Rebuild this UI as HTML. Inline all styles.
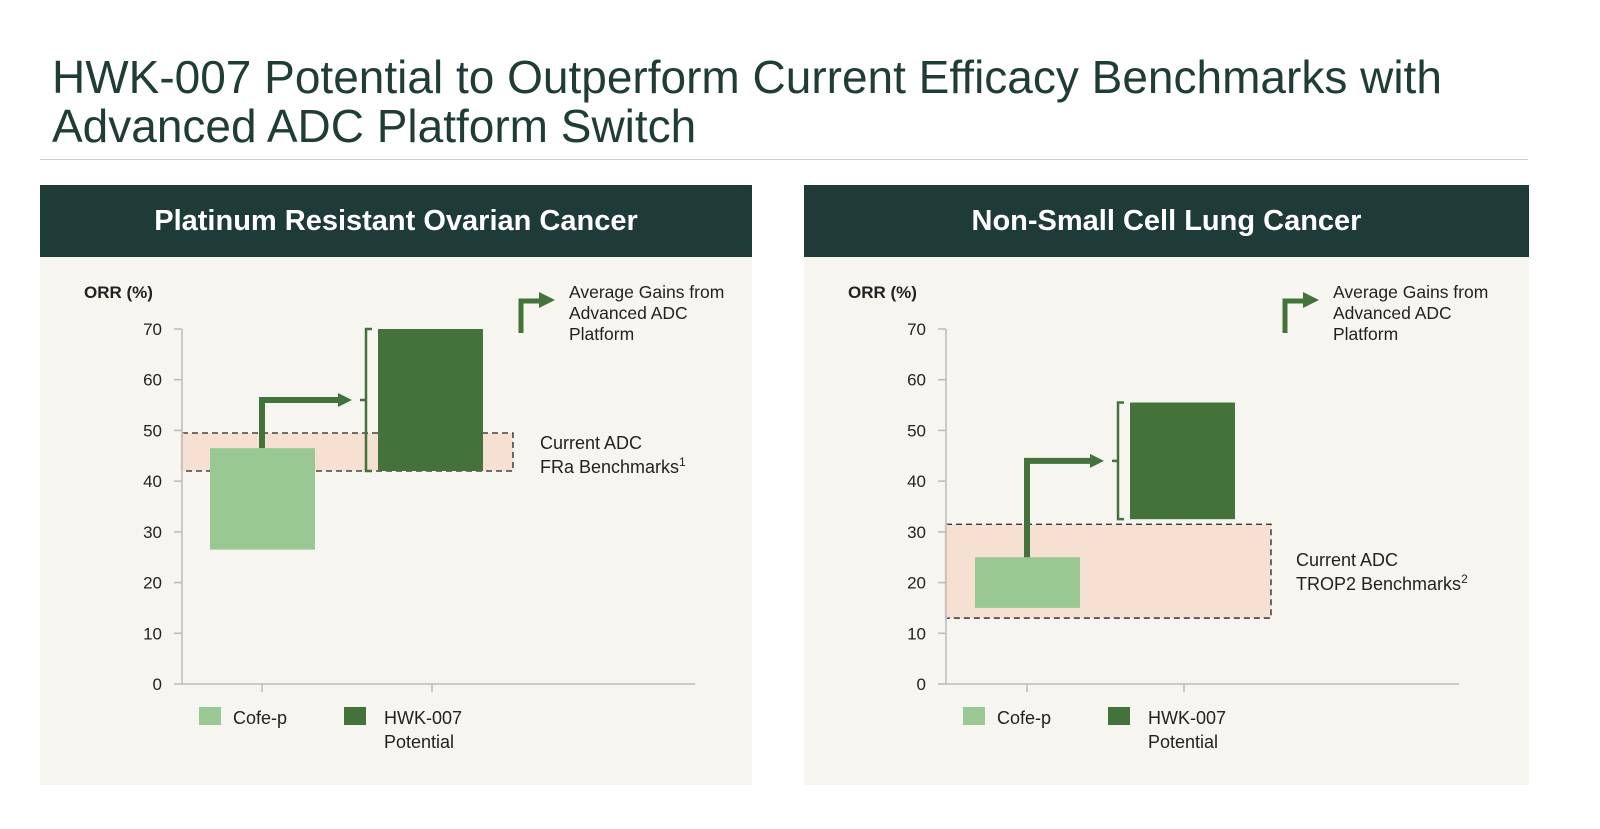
<!DOCTYPE html>
<html><head><meta charset="utf-8"><style>
body{margin:0;width:1600px;height:829px;background:#fff;font-family:"Liberation Sans",sans-serif;overflow:hidden;position:relative}
.title{position:absolute;left:52px;top:53px;font-size:46px;line-height:49px;color:#1f3d36}
.rule{position:absolute;left:40px;top:159px;width:1488px;height:1px;background:#c9cfc9}
.panel{position:absolute;top:185px;height:600px;background:#f7f5f0}
.head{height:72px;background:#1f3b37;color:#fff;font-weight:bold;font-size:29px;text-align:center;line-height:72px}
svg{position:absolute;left:0;top:0}
</style></head><body>
<div class="title">HWK-007 Potential to Outperform Current Efficacy Benchmarks with<br>Advanced ADC Platform Switch</div>
<div class="rule"></div>
<div class="panel" style="left:40px;width:712px"><div class="head">Platinum Resistant Ovarian Cancer</div></div>
<div class="panel" style="left:804px;width:725px"><div class="head">Non-Small Cell Lung Cancer</div></div>
<svg id="chart" width="1600" height="829"></svg>
<script>
const ticks=[0,10,20,30,40,50,60,70];
const categories=["Cofe-p","HWK-007 Potential"];
const leftCofe=[26.5,46.5];
const leftHwk=[42,70];
const leftBand=[42,49.5];
const rightCofe=[15,25];
const rightHwk=[32.5,55.5];
const rightBand=[13,31.5];
const NS="http://www.w3.org/2000/svg";
const svg=document.getElementById('chart');
function y(v){return 684-v*(355/70);}
function el(t,a,txt){const e=document.createElementNS(NS,t);for(const k in a)e.setAttribute(k,a[k]);if(txt!==undefined)e.textContent=txt;svg.appendChild(e);return e;}
function chart(ax,cofe,hwk,band,bandRight,bar1,bar2,note1,note2,sup,pfx){
  let e;
  e=el('text',{x:ax-98,y:298,'font-size':17,'font-weight':'bold',fill:'#222'},'ORR (%)');
  
  e=el('rect',{x:ax,y:y(band[1]),width:bandRight-ax,height:y(band[0])-y(band[1]),fill:'#f5e0d1',stroke:'#222','stroke-dasharray':'6,4','stroke-width':1.3});
  
  el('line',{x1:ax,y1:y(band[1]),x2:ax,y2:y(band[0]),stroke:'#f5e0d1','stroke-width':3});
  el('line',{x1:ax,y1:y(70),x2:ax,y2:684,stroke:'#bbb','stroke-width':1.5});
  el('line',{x1:ax,y1:684,x2:ax+513,y2:684,stroke:'#bbb','stroke-width':1.5});
  ticks.forEach(t=>{el('line',{x1:ax-8,y1:y(t),x2:ax,y2:y(t),stroke:'#bbb','stroke-width':1.5});
    e=el('text',{x:ax-20,y:y(t)+6,'font-size':17,fill:'#222','text-anchor':'end'},t);
    });
  const c1=bar1+52,c2=bar2+52;
  el('line',{x1:c1,y1:684,x2:c1,y2:692,stroke:'#bbb','stroke-width':1.5});
  el('line',{x1:c2+2,y1:684,x2:c2+2,y2:692,stroke:'#bbb','stroke-width':1.5});
  e=el('rect',{x:bar1,y:y(cofe[1]),width:105,height:y(cofe[0])-y(cofe[1]),fill:'#99c892'});
  
  e=el('rect',{x:bar2,y:y(hwk[1]),width:105,height:y(hwk[0])-y(hwk[1]),fill:'#43733b'});
  
  const mid=(y(hwk[0])+y(hwk[1]))/2;
  e=el('path',{d:`M${c1} ${y(cofe[1])} V${mid} H${bar2-38}`,fill:'none',stroke:'#43733b','stroke-width':6});
  
  el('polygon',{points:`${bar2-40},${mid-7} ${bar2-26},${mid} ${bar2-40},${mid+7}`,fill:'#43733b'});
  const bx=bar2-12;
  e=el('path',{d:`M${bx+6} ${y(hwk[1])} H${bx} V${y(hwk[0])} H${bx+6} M${bx} ${mid} H${bx-6}`,fill:'none',stroke:'#43733b','stroke-width':2.5});
  
  const lx=ax+17;
  el('rect',{x:lx,y:707,width:22,height:18,fill:'#99c892'});
  e=el('text',{x:lx+34,y:724,'font-size':18,fill:'#222'},categories[0]);
  
  el('rect',{x:lx+145,y:707,width:22,height:18,fill:'#43733b'});
  e=el('text',{x:lx+185,y:724,'font-size':18,fill:'#222'});
  
  const ts=document.createElementNS(NS,'tspan');ts.textContent='HWK-007';e.appendChild(ts);
  const ts2=document.createElementNS(NS,'tspan');ts2.setAttribute('x',lx+185);ts2.setAttribute('dy',24);ts2.textContent='Potential';e.appendChild(ts2);
  const gx=ax+339;
  e=el('path',{d:`M${gx} 333 V301 H${gx+20}`,fill:'none',stroke:'#43733b','stroke-width':5});
  
  el('polygon',{points:`${gx+18},292 ${gx+34},300 ${gx+18},308`,fill:'#43733b'});
  e=el('text',{x:gx+48,y:298,'font-size':17.5,fill:'#222'},'Average Gains from');
  
  el('text',{x:gx+48,y:319,'font-size':17.5,fill:'#222'},'Advanced ADC');
  el('text',{x:gx+48,y:340,'font-size':17.5,fill:'#222'},'Platform');
  e=el('text',{x:note1,y:note2,'font-size':18,fill:'#222'},'Current ADC');
  
  const t=el('text',{x:note1,y:note2+24,'font-size':18,fill:'#222'},sup[0]);
  const s=document.createElementNS(NS,'tspan');s.setAttribute('font-size',12);s.setAttribute('dy',-7);s.textContent=sup[1];t.appendChild(s);
}
chart(182,leftCofe,leftHwk,leftBand,513,210,378,540,449,['FRa Benchmarks','1'],'ovarian');
chart(946,rightCofe,rightHwk,rightBand,1271,975,1130,1296,566,['TROP2 Benchmarks','2'],'nsclc');
</script>
</body></html>
